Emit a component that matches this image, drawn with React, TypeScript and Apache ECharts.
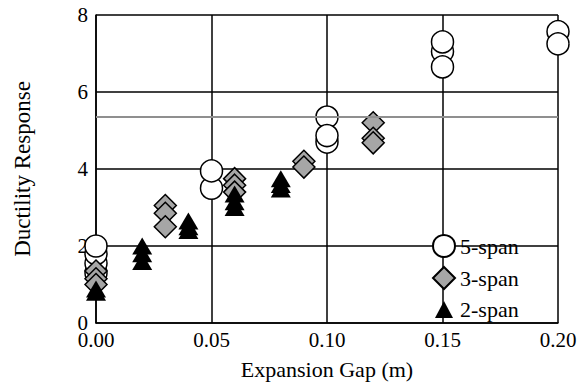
import React, { useEffect, useRef } from "react";
import * as echarts from "echarts";

const seriesNames = ["5-span", "3-span", "2-span"];

const fiveSpan: [number, number][] = [
  [0, 1.3], [0, 1.55], [0, 1.8], [0, 2.0],
  [0.05, 3.5], [0.05, 3.95],
  [0.1, 4.7], [0.1, 5.35], [0.1, 4.87],
  [0.15, 7.05], [0.15, 7.3], [0.15, 6.65],
  [0.2, 7.57], [0.2, 7.25],
];

const threeSpan: [number, number][] = [
  [0, 1.35], [0, 1.15], [0, 1.0],
  [0.03, 3.05], [0.03, 2.85], [0.03, 2.5],
  [0.06, 3.75], [0.06, 3.58], [0.06, 3.4],
  [0.09, 4.2], [0.09, 4.05],
  [0.12, 5.2], [0.12, 4.8], [0.12, 4.68],
];

const twoSpan: [number, number][] = [
  [0, 0.88], [0, 0.8],
  [0.02, 2.0], [0.02, 1.8], [0.02, 1.6],
  [0.04, 2.65], [0.04, 2.5], [0.04, 2.4],
  [0.06, 3.35], [0.06, 3.15], [0.06, 3.0],
  [0.08, 3.75], [0.08, 3.6], [0.08, 3.48],
];

const referenceLevel = 5.35;

const xTicks = { min: 0, max: 0.2, interval: 0.05 };
const yTicks = { min: 0, max: 8, interval: 2 };

const FONT = "Liberation Serif";

export default function App() {
  const ref = useRef<HTMLDivElement>(null);
  useEffect(() => {
    if (!ref.current) return;
    const chart = echarts.init(ref.current, undefined, { renderer: "svg" });
    chart.setOption({
      animation: false,
      backgroundColor: "#fff",
      textStyle: { fontFamily: FONT, color: "#000" },
      grid: { left: 96, right: 24, top: 15, bottom: 64 },
      legend: {
        orient: "vertical",
        left: 427,
        top: 229,
        itemWidth: 22,
        itemHeight: 22,
        itemGap: 8,
        data: [
          { name: seriesNames[0] },
          { name: seriesNames[1] },
          {
            name: seriesNames[2],
            icon: "path://M0,0 M22,22 M11,3 L20,20 L2,20 Z",
          },
        ],
        textStyle: { fontFamily: FONT, fontSize: 22, color: "#000" },
      },
      xAxis: {
        type: "value",
        min: xTicks.min,
        max: xTicks.max,
        interval: xTicks.interval,
        name: "Expansion Gap (m)",
        nameLocation: "middle",
        nameGap: 35,
        nameTextStyle: { fontFamily: FONT, fontSize: 22, color: "#000" },
        axisLine: { show: true, lineStyle: { color: "#000", width: 1.5 } },
        axisTick: { show: false },
        axisLabel: {
          fontFamily: FONT,
          fontSize: 21,
          color: "#000",
          margin: 6,
          formatter: (v: number) => v.toFixed(2),
        },
        splitLine: { show: true, lineStyle: { color: "#000", width: 1.5 } },
      },
      yAxis: {
        type: "value",
        min: yTicks.min,
        max: yTicks.max,
        interval: yTicks.interval,
        name: "Ductility Response",
        nameLocation: "middle",
        nameGap: 62,
        nameTextStyle: { fontFamily: FONT, fontSize: 23, color: "#000" },
        axisLine: { show: true, lineStyle: { color: "#000", width: 1.5 } },
        axisTick: { show: false },
        axisLabel: { fontFamily: FONT, fontSize: 21, color: "#000", margin: 8 },
        splitLine: { show: true, lineStyle: { color: "#000", width: 1.5 } },
      },
      series: [
        {
          name: seriesNames[0],
          type: "scatter",
          symbol: "circle",
          symbolSize: 22,
          itemStyle: { color: "#fff", borderColor: "#000", borderWidth: 1.5, opacity: 1 },
          data: fiveSpan,
          markLine: {
            silent: true,
            symbol: ["none", "none"],
            label: { show: false },
            lineStyle: { color: "#8f8f8f", width: 2, type: "solid" },
            data: [{ yAxis: referenceLevel }],
          },
        },
        {
          name: seriesNames[1],
          type: "scatter",
          symbol: "diamond",
          symbolSize: 22,
          itemStyle: { color: "#a6a6a6", borderColor: "#000", borderWidth: 1.5, opacity: 1 },
          data: threeSpan,
        },
        {
          name: seriesNames[2],
          type: "scatter",
          symbol: "triangle",
          symbolSize: [20, 17],
          itemStyle: { color: "#000", opacity: 1 },
          data: twoSpan,
        },
      ],
    });
    return () => chart.dispose();
  }, []);
  return (
    <div
      ref={ref}
      style={{ position: "fixed", left: 0, top: 0, width: 582, height: 387 }}
    />
  );
}
